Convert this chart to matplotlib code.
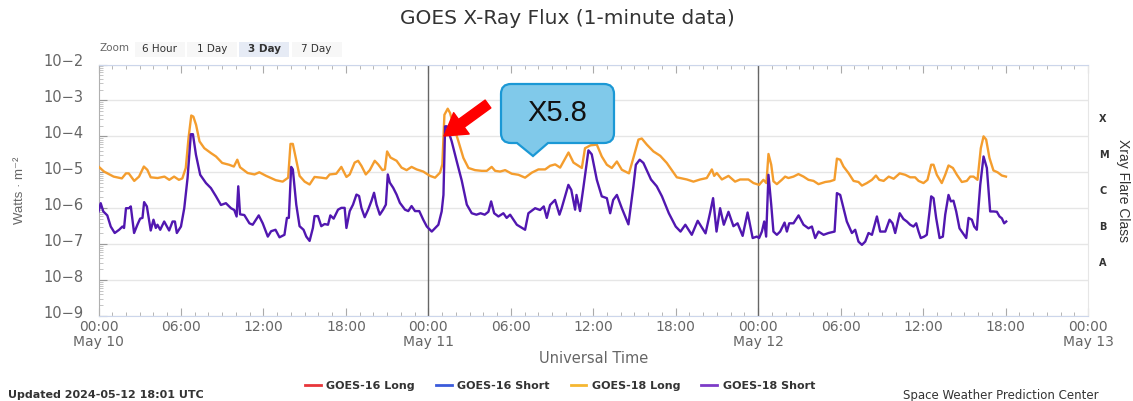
import matplotlib
matplotlib.use("Agg")
import matplotlib.pyplot as plt
import matplotlib.transforms as mtransforms
from matplotlib.patches import PathPatch, Rectangle, FancyArrowPatch
from matplotlib.path import Path
from matplotlib.lines import Line2D
from matplotlib import font_manager
import numpy as np

W, H = 1133, 401

# hours since 2024-05-10 00:00 UTC and log10 of the flux (W/m^2)
long_hours = [0.0, 0.4, 1.1, 1.7, 2.0, 2.2, 2.6, 2.95, 3.3, 3.55, 3.8, 4.3, 4.8, 5.15, 5.5, 5.85, 6.1, 6.35,
              6.55, 6.75, 6.9, 7.1, 7.35, 7.7, 8.2, 8.55, 9.0, 9.5, 9.85, 10.1, 10.3, 10.85, 11.35, 11.7,
              12.2, 12.9, 13.4, 13.8, 13.97, 14.14, 14.4, 14.63, 15.0, 15.36, 15.72, 16.2, 16.58, 16.82,
              17.3, 17.67, 18.04, 18.28, 18.64, 18.89, 19.13, 19.45, 19.74, 20.1, 20.35, 20.66, 20.84,
              21.0, 21.25, 21.69, 22.05, 22.42, 22.78, 23.15, 23.63, 24.12, 24.49, 24.85, 25.02, 25.17,
              25.41, 25.58, 25.82, 26.19, 26.55, 26.92, 27.4, 27.89, 28.25, 28.61, 28.86, 29.22, 29.59,
              30.07, 30.56, 31.04, 31.53, 32.01, 32.5, 32.86, 33.23, 33.59, 34.2, 34.56, 34.8, 35.17,
              35.4, 35.8, 36.26, 36.62, 36.99, 37.35, 37.72, 38.08, 38.6, 38.92, 39.29, 39.53, 39.9,
              40.38, 40.87, 41.35, 42.08, 42.81, 43.29, 43.78, 44.26, 44.63, 44.8, 44.99, 45.36, 45.84,
              46.32, 46.69, 47.29, 47.66, 48.07, 48.38, 48.6, 48.75, 48.95, 49.11, 49.36, 49.72, 49.96,
              50.2, 50.57, 50.93, 51.3, 51.66, 52.03, 52.39, 52.88, 53.24, 53.55, 53.73, 53.97, 54.21,
              54.57, 54.94, 55.3, 55.55, 55.91, 56.28, 56.57, 56.81, 57.13, 57.5, 57.86, 58.3, 58.7,
              59.06, 59.42, 59.67, 60.03, 60.32, 60.59, 60.76, 61.0, 61.36, 61.61, 61.85, 62.17, 62.46,
              62.82, 63.18, 63.43, 63.67, 63.96, 64.2, 64.4, 64.59, 64.83, 65.12, 65.42, 65.73, 66.03]
long_log = [-4.84, -4.98, -5.12, -5.17, -5.03, -5.03, -5.24, -5.12, -4.84, -4.93, -5.14, -5.16, -5.12, -5.21,
            -5.12, -5.21, -5.17, -4.88, -4.05, -3.42, -3.45, -3.68, -4.14, -4.33, -4.47, -4.56, -4.74, -4.79,
            -4.84, -4.65, -4.86, -5.02, -5.06, -5.0, -5.1, -5.22, -5.26, -5.15, -4.21, -4.21, -4.68, -5.1,
            -5.26, -5.34, -5.13, -5.15, -5.17, -5.06, -5.04, -4.85, -5.13, -5.06, -4.73, -4.68, -4.82, -5.06,
            -4.94, -4.68, -4.78, -4.94, -4.92, -4.42, -4.59, -4.68, -4.87, -4.94, -4.85, -4.92, -4.98, -5.1,
            -5.15, -5.01, -4.78, -3.4, -3.23, -3.35, -3.68, -4.14, -4.6, -4.88, -4.94, -4.96, -4.96, -4.85,
            -4.96, -4.98, -4.94, -5.04, -5.07, -5.15, -5.01, -4.92, -4.92, -4.82, -4.78, -4.87, -4.45, -4.73,
            -4.79, -4.88, -4.33, -4.25, -4.23, -4.56, -4.79, -4.88, -4.7, -4.93, -5.03, -4.6, -4.09, -4.06,
            -4.23, -4.42, -4.54, -4.74, -5.14, -5.2, -5.26, -5.2, -5.16, -4.92, -5.1, -5.02, -5.2, -5.1,
            -5.26, -5.2, -5.2, -5.3, -5.35, -5.21, -5.3, -4.49, -4.79, -5.25, -5.33, -5.21, -5.12, -5.16,
            -5.12, -5.05, -5.12, -5.21, -5.24, -5.33, -5.27, -5.25, -5.21, -4.62, -4.65, -4.84, -5.02, -5.24,
            -5.27, -5.37, -5.3, -5.21, -5.09, -5.21, -5.24, -5.12, -5.18, -5.03, -5.07, -5.14, -5.14, -5.24,
            -5.3, -5.21, -4.79, -4.79, -5.07, -5.3, -5.07, -4.81, -4.88, -5.07, -5.27, -5.24, -5.12, -5.12,
            -5.21, -4.33, -4.0, -4.09, -4.6, -4.95, -5.0, -5.09, -5.12]

short_hours = [0.0, 0.16, 0.35, 0.64, 0.89, 1.18, 1.5, 1.74, 1.86, 2.0, 2.22, 2.35, 2.59, 2.83, 3.03, 3.2,
               3.32, 3.52, 3.8, 4.0, 4.17, 4.29, 4.49, 4.78, 5.14, 5.39, 5.56, 5.7, 6.0, 6.24, 6.48, 6.72,
               6.87, 7.09, 7.4, 7.82, 8.18, 8.55, 8.91, 9.27, 9.64, 9.88, 10.05, 10.17, 10.3, 10.61, 10.98,
               11.22, 11.66, 11.95, 12.32, 12.56, 12.88, 13.17, 13.53, 13.71, 13.85, 14.02, 14.14, 14.39,
               14.63, 14.92, 15.12, 15.36, 15.6, 15.72, 15.97, 16.21, 16.45, 16.7, 16.87, 17.11, 17.43,
               17.67, 17.91, 18.04, 18.28, 18.52, 18.77, 18.96, 19.13, 19.37, 19.62, 19.86, 20.05, 20.23,
               20.47, 20.71, 20.91, 21.05, 21.2, 21.44, 21.69, 21.93, 22.3, 22.54, 22.78, 23.03, 23.34,
               23.63, 23.89, 24.25, 24.73, 24.97, 25.1, 25.22, 25.35, 25.7, 26.07, 26.43, 26.8, 27.16,
               27.5, 27.8, 28.1, 28.37, 28.57, 28.79, 29.1, 29.46, 29.7, 29.95, 30.44, 31.04, 31.28, 31.77,
               32.13, 32.4, 32.62, 32.86, 33.22, 33.54, 33.7, 34.19, 34.4, 34.68, 34.78, 35.04, 35.28,
               35.65, 35.89, 36.26, 36.62, 36.99, 37.23, 37.45, 37.72, 38.08, 38.56, 38.92, 39.1, 39.38,
               39.65, 40.2, 40.62, 41.0, 41.5, 42.0, 42.35, 42.7, 43.17, 43.6, 44.17, 44.5, 44.72, 44.97,
               45.23, 45.5, 45.84, 46.2, 46.5, 46.87, 47.23, 47.6, 47.9, 48.07, 48.27, 48.44, 48.58, 48.75,
               48.95, 49.11, 49.36, 49.6, 49.92, 50.09, 50.26, 50.57, 50.94, 51.3, 51.66, 51.91, 52.15,
               52.39, 52.76, 53.12, 53.56, 53.73, 53.97, 54.21, 54.45, 54.82, 55.06, 55.3, 55.55, 55.79,
               56.03, 56.28, 56.64, 56.88, 57.25, 57.56, 57.78, 57.97, 58.3, 58.57, 58.82, 59.06, 59.3,
               59.5, 59.67, 59.83, 60.08, 60.27, 60.47, 60.59, 60.76, 60.95, 61.2, 61.44, 61.61, 61.85,
               62.02, 62.21, 62.41, 62.65, 62.89, 63.14, 63.31, 63.55, 63.72, 63.91, 64.16, 64.4, 64.64,
               64.88, 65.13, 65.37, 65.56, 65.73, 65.9, 66.05]
short_log = [-6.09, -5.86, -6.09, -6.2, -6.51, -6.69, -6.6, -6.51, -6.55, -6.0, -6.0, -5.95, -6.69, -6.46,
             -6.29, -6.27, -5.83, -5.95, -6.62, -6.32, -6.55, -6.46, -6.6, -6.37, -6.62, -6.37, -6.37, -6.69,
             -6.51, -6.0, -5.16, -3.94, -3.94, -4.51, -5.07, -5.3, -5.44, -5.67, -5.91, -5.86, -6.0, -6.05,
             -6.23, -5.39, -6.17, -6.19, -6.42, -6.46, -6.2, -6.42, -6.79, -6.64, -6.6, -6.81, -6.74, -6.27,
             -6.27, -4.85, -4.92, -5.9, -6.5, -6.6, -6.79, -6.91, -6.55, -6.22, -6.22, -6.5, -6.44, -6.46,
             -6.2, -6.29, -6.04, -5.99, -5.99, -6.55, -6.08, -5.9, -5.62, -5.66, -5.99, -6.25, -6.04, -5.8,
             -5.57, -5.9, -6.18, -6.04, -5.9, -5.06, -5.29, -5.43, -5.62, -5.85, -6.04, -6.08, -5.94, -6.08,
             -6.08, -6.32, -6.51, -6.65, -6.46, -6.09, -5.63, -3.72, -3.72, -4.14, -4.7, -5.23, -5.9, -6.14,
             -6.18, -6.14, -6.18, -6.1, -5.81, -6.14, -6.23, -6.14, -6.27, -6.18, -6.46, -6.6, -6.14, -6.0,
             -6.05, -5.95, -6.27, -5.91, -5.77, -6.18, -6.0, -5.35, -5.49, -6.04, -5.63, -6.08, -5.43, -4.39,
             -4.5, -5.21, -5.67, -5.72, -6.14, -5.77, -5.63, -6.0, -6.45, -5.39, -4.79, -4.65, -4.74, -5.2,
             -5.39, -5.67, -6.14, -6.51, -6.65, -6.46, -6.74, -6.35, -6.7, -6.13, -5.72, -6.65, -6.0, -6.46,
             -6.1, -6.5, -6.42, -6.77, -6.12, -6.83, -6.79, -6.83, -6.65, -6.37, -6.79, -5.07, -5.9, -6.65,
             -6.74, -6.65, -6.4, -6.65, -6.42, -6.42, -6.2, -6.46, -6.56, -6.51, -6.83, -6.65, -6.74, -6.69,
             -6.65, -5.58, -5.63, -6.0, -6.37, -6.69, -6.6, -6.93, -7.02, -6.93, -6.69, -6.74, -6.23, -6.65,
             -6.65, -6.32, -6.42, -6.69, -6.14, -6.3, -6.37, -6.46, -6.51, -6.42, -6.65, -6.83, -6.79, -6.74,
             -6.09, -5.67, -5.72, -6.27, -6.83, -6.79, -6.18, -5.63, -5.81, -5.79, -6.09, -6.56, -6.69, -6.83,
             -6.27, -6.32, -6.51, -6.6, -5.35, -4.56, -4.88, -6.09, -6.09, -6.1, -6.23, -6.28, -6.42, -6.37]

x_ticks = [0, 6, 12, 18, 24, 30, 36, 42, 48, 54, 60, 66, 72]
x_labels = ["00:00\nMay 10", "06:00", "12:00", "18:00", "00:00\nMay 11", "06:00", "12:00", "18:00",
            "00:00\nMay 12", "06:00", "12:00", "18:00", "00:00\nMay 13"]
y_exps = [-2, -3, -4, -5, -6, -7, -8, -9]
flare_classes = ["X", "M", "C", "B", "A"]
flare_exps = [-3.5, -4.5, -5.5, -6.5, -7.5]
legend_names = ["GOES-16 Long", "GOES-16 Short", "GOES-18 Long", "GOES-18 Short"]
legend_colors = ["#e8363a", "#3b5bdb", "#f5b731", "#7d3cc8"]
zoom_buttons = ["6 Hour", "1 Day", "3 Day", "7 Day"]

long_color = "#f49d2e"
short_color = "#5117b0"

names = {f.name for f in font_manager.fontManager.ttflist}
narrow = "Liberation Sans Narrow" if "Liberation Sans Narrow" in names else "Liberation Sans"

fig = plt.figure(figsize=(W / 100, H / 100), dpi=100)
px = mtransforms.Affine2D().scale(1 / W, -1 / H).translate(0, 1) + fig.transFigure

ax = fig.add_axes([98.5 / W, 1 - 316 / H, (1088 - 98.5) / W, (316 - 64.5) / H])
ax.set_yscale("log")
ax.set_xlim(0, 72)
ax.set_ylim(1e-9, 1e-2)

ax.plot(long_hours, 10 ** np.array(long_log), color=long_color, lw=1.7, zorder=3)
ax.plot(short_hours, 10 ** np.array(short_log), color=short_color, lw=1.7, zorder=4)

for d in [24, 48]:
    ax.axvline(d, color="#666666", lw=1, zorder=2)

# axes styling
ax.grid(axis="y", which="major", color="#e6e6e6", lw=1)
ax.set_axisbelow(True)
for s in ["top", "bottom"]:
    ax.spines[s].set_color("#ccd6eb")
ax.spines["left"].set_color("#b0b0b0")
ax.spines["right"].set_color("#e6e6e6")

ax.set_xticks(x_ticks)
ax.set_xticklabels(x_labels, fontsize=10, color="#666666", linespacing=1.1)
ax.set_xticks(range(0, 73), minor=True)
ax.tick_params(axis="x", which="major", direction="in", length=6, top=True, color="#aaaaaa", pad=3)
ax.tick_params(axis="x", which="minor", direction="in", length=3, top=True, color="#aaaaaa")

ax.set_yticks([10.0 ** e for e in y_exps])
ax.set_yticklabels(["10\u2212%d" % (-e) for e in y_exps], fontsize=10.5, color="#666666")
ax.yaxis.set_minor_locator(matplotlib.ticker.LogLocator(base=10, subs=np.arange(2, 10), numticks=20))
ax.yaxis.set_minor_formatter(matplotlib.ticker.NullFormatter())
ax.tick_params(axis="y", which="major", direction="in", length=6, color="#999999", pad=11)
ax.tick_params(axis="y", which="minor", direction="in", length=3, color="#bbbbbb")
for lab in ax.get_yticklabels():
    lab.set_transform(lab.get_transform() + mtransforms.ScaledTranslation(0, 4 / 100, fig.dpi_scale_trans))

ax.set_xlabel("Universal Time", fontsize=10.5, color="#666666", labelpad=1)
ax.set_ylabel("Watts \u00b7 m\u207b\u00b2", fontsize=9.5, color="#666666",
              family=[narrow, "DejaVu Sans"], labelpad=12)

# flare class axis
ax2 = ax.twinx()
ax2.set_yscale("log")
ax2.set_ylim(1e-9, 1e-2)
ax2.set_yticks([10.0 ** e for e in flare_exps])
ax2.set_yticklabels(flare_classes, fontsize=7, fontweight="bold", color="#333333")
ax2.yaxis.set_minor_locator(matplotlib.ticker.NullLocator())
ax2.tick_params(axis="y", length=0, pad=8)
for s in ax2.spines.values():
    s.set_visible(False)
ax2.set_ylabel("Xray Flare Class", rotation=270, fontsize=10, color="#333333", family=narrow, labelpad=15)

# title and footer texts
fig.text(567 / W, 1 - 18 / H, "GOES X-Ray Flux (1-minute data)", ha="center", va="center",
         fontsize=14.5, color="#333333")
fig.text(8 / W, 1 - 395 / H, "Updated 2024-05-12 18:01 UTC", ha="left", va="center",
         fontsize=8, fontweight="bold", color="#333333")
fig.text(903 / W, 1 - 395 / H, "Space Weather Prediction Center", ha="left", va="center",
         fontsize=8.5, color="#333333")

# range selector buttons
fig.text(100 / W, 1 - 48 / H, "Zoom", ha="left", va="center", fontsize=7.5, color="#666666")
for i, name in enumerate(zoom_buttons):
    x0 = 135 + i * 52.2
    sel = name == "3 Day"
    fig.patches.append(Rectangle((x0, 42), 50, 15, transform=px,
                                 facecolor="#e6ebf5" if sel else "#f7f7f7", edgecolor="none"))
    fig.text((x0 + 25) / W, 1 - 49 / H, name, ha="center", va="center", fontsize=7.5,
             fontweight="bold" if sel else "normal", color="#333333")

# legend
handles = [Line2D([], [], color=c, lw=2) for c in legend_colors]
fig.legend(handles, legend_names, loc="center", bbox_to_anchor=(560 / W, 1 - 386 / H), ncol=4,
           frameon=False, prop={"size": 8, "weight": "bold"}, handlelength=1.4, handletextpad=0.5,
           columnspacing=1.9, labelcolor="#333333")

# callout for the X5.8 flare
x0, x1, y0, y1, r = 501, 614, 84, 143, 10
xa, xb, tx, ty = 517, 548, 533, 156
verts = [(x0 + r, y0), (x1 - r, y0), (x1, y0), (x1, y0 + r), (x1, y1 - r), (x1, y1), (x1 - r, y1),
         (xb, y1), (tx, ty), (xa, y1), (x0 + r, y1), (x0, y1), (x0, y1 - r), (x0, y0 + r), (x0, y0),
         (x0 + r, y0), (x0 + r, y0)]
codes = [Path.MOVETO, Path.LINETO, Path.CURVE3, Path.CURVE3, Path.LINETO, Path.CURVE3, Path.CURVE3,
         Path.LINETO, Path.LINETO, Path.LINETO, Path.LINETO, Path.CURVE3, Path.CURVE3, Path.LINETO,
         Path.CURVE3, Path.CURVE3, Path.CLOSEPOLY]
fig.patches.append(PathPatch(Path(verts, codes), transform=px, facecolor="#80c9ea",
                             edgecolor="#1b98d5", lw=1.6, zorder=5))
fig.text(557 / W, 1 - 113 / H, "X5.8", ha="center", va="center", fontsize=21,
         family="Liberation Sans", color="#111111", zorder=6)

fig.patches.append(FancyArrowPatch((488, 104), (444, 136), transform=px,
                                   arrowstyle="simple,head_length=15.5,head_width=19,tail_width=7",
                                   mutation_scale=1, color="#ff0000", shrinkA=0, shrinkB=0, zorder=6))

fig.savefig("out.png", dpi=100)
